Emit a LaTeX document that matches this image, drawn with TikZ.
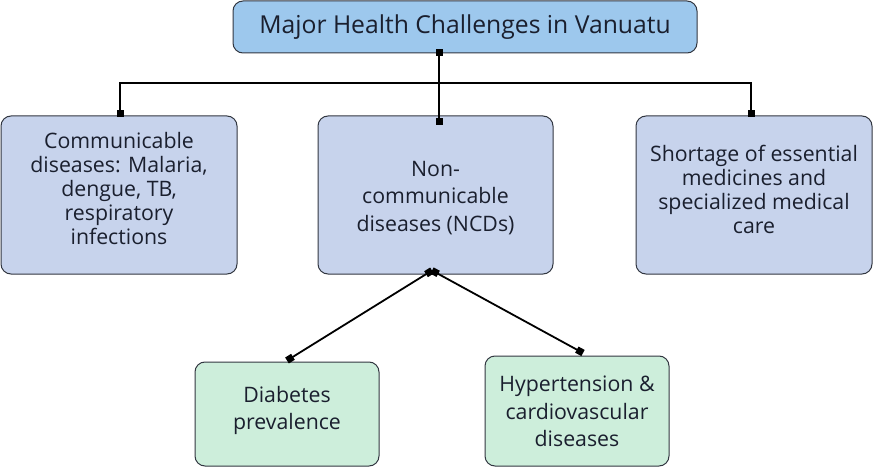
\documentclass[tikz,border=0pt]{standalone}
\usepackage{fontspec}
\setmainfont{Open Sans}
\usetikzlibrary{arrows.meta}
\definecolor{titlefill}{RGB}{157,200,237}
\definecolor{bluefill}{RGB}{199,211,236}
\definecolor{greenfill}{RGB}{205,238,219}
\definecolor{edgecol}{RGB}{50,55,65}
\definecolor{txtcol}{RGB}{26,31,46}
\newcommand\boxtext[2]{\raisebox{\dimexpr #1-5.3pt\relax}[0pt][0pt]{\begin{tabular}{@{}c@{}}#2\end{tabular}}}
\tikzset{
  box/.style={draw=edgecol, line width=1pt, rounded corners=10pt, text=txtcol, inner sep=0pt},
  bluebox/.style={box, fill=bluefill, minimum width=236pt, minimum height=158pt},
  greenbox/.style={box, fill=greenfill, minimum width=184pt},
  tight/.style={font=\fontsize{21.3}{24}\selectfont},
  loose/.style={font=\fontsize{21.3}{27.5}\selectfont},
  conn/.style={line width=1.8pt, black},
  sqend/.style={conn, -{Square[length=7pt,width=7pt]}},
  sqboth/.style={conn, {Square[length=7pt,width=7pt]}-{Square[length=7pt,width=7pt]}},
}
\begin{document}
\begin{tikzpicture}[x=1pt,y=-1pt]
\useasboundingbox (0,0) rectangle (873,468);
\node[box, fill=titlefill, minimum width=464pt, minimum height=52pt, font=\fontsize{24.7}{28}\selectfont] (title) at (465,27) {Major Health Challenges in Vanuatu};
\node[bluebox, tight] (left) at (119,195) {\boxtext{3pt}{Communicable\\diseases: Malaria,\\dengue, TB,\\respiratory\\infections}};
\node[bluebox, loose, minimum width=235pt] (mid) at (435.5,195) {\boxtext{-3pt}{Non-\\communicable\\diseases (NCDs)}};
\node[bluebox, tight] (right) at (754,195) {\boxtext{2.5pt}{Shortage of essential\\medicines and\\specialized medical\\care}};
\node[greenbox, loose, minimum height=104pt] (diab) at (287,414) {\boxtext{3.5pt}{Diabetes\\prevalence}};
\node[greenbox, loose, minimum height=110pt] (hyp) at (577,411) {\boxtext{-2.5pt}{Hypertension \&\\cardiovascular\\diseases}};
\coordinate (tb) at ([xshift=-26pt,yshift=4pt]title.south);
\coordinate (bus) at (439,83);
\draw[conn] (tb) -- (bus);
\draw[sqend] (bus) -| ([xshift=1pt,yshift=-2pt]left.north);
\draw[sqend] (bus) -| ([xshift=-3pt,yshift=-2pt]right.north);
\draw[sqboth] (tb) -- ([yshift=-10pt]mid.north -| tb);
\coordinate (mb) at ([xshift=-3.5pt,yshift=4pt]mid.south);
\draw[sqboth] (mb) -- ([yshift=1pt]diab.north);
\draw[sqboth] (mb) -- ([xshift=6pt,yshift=2.5pt]hyp.north);
\end{tikzpicture}
\end{document}
